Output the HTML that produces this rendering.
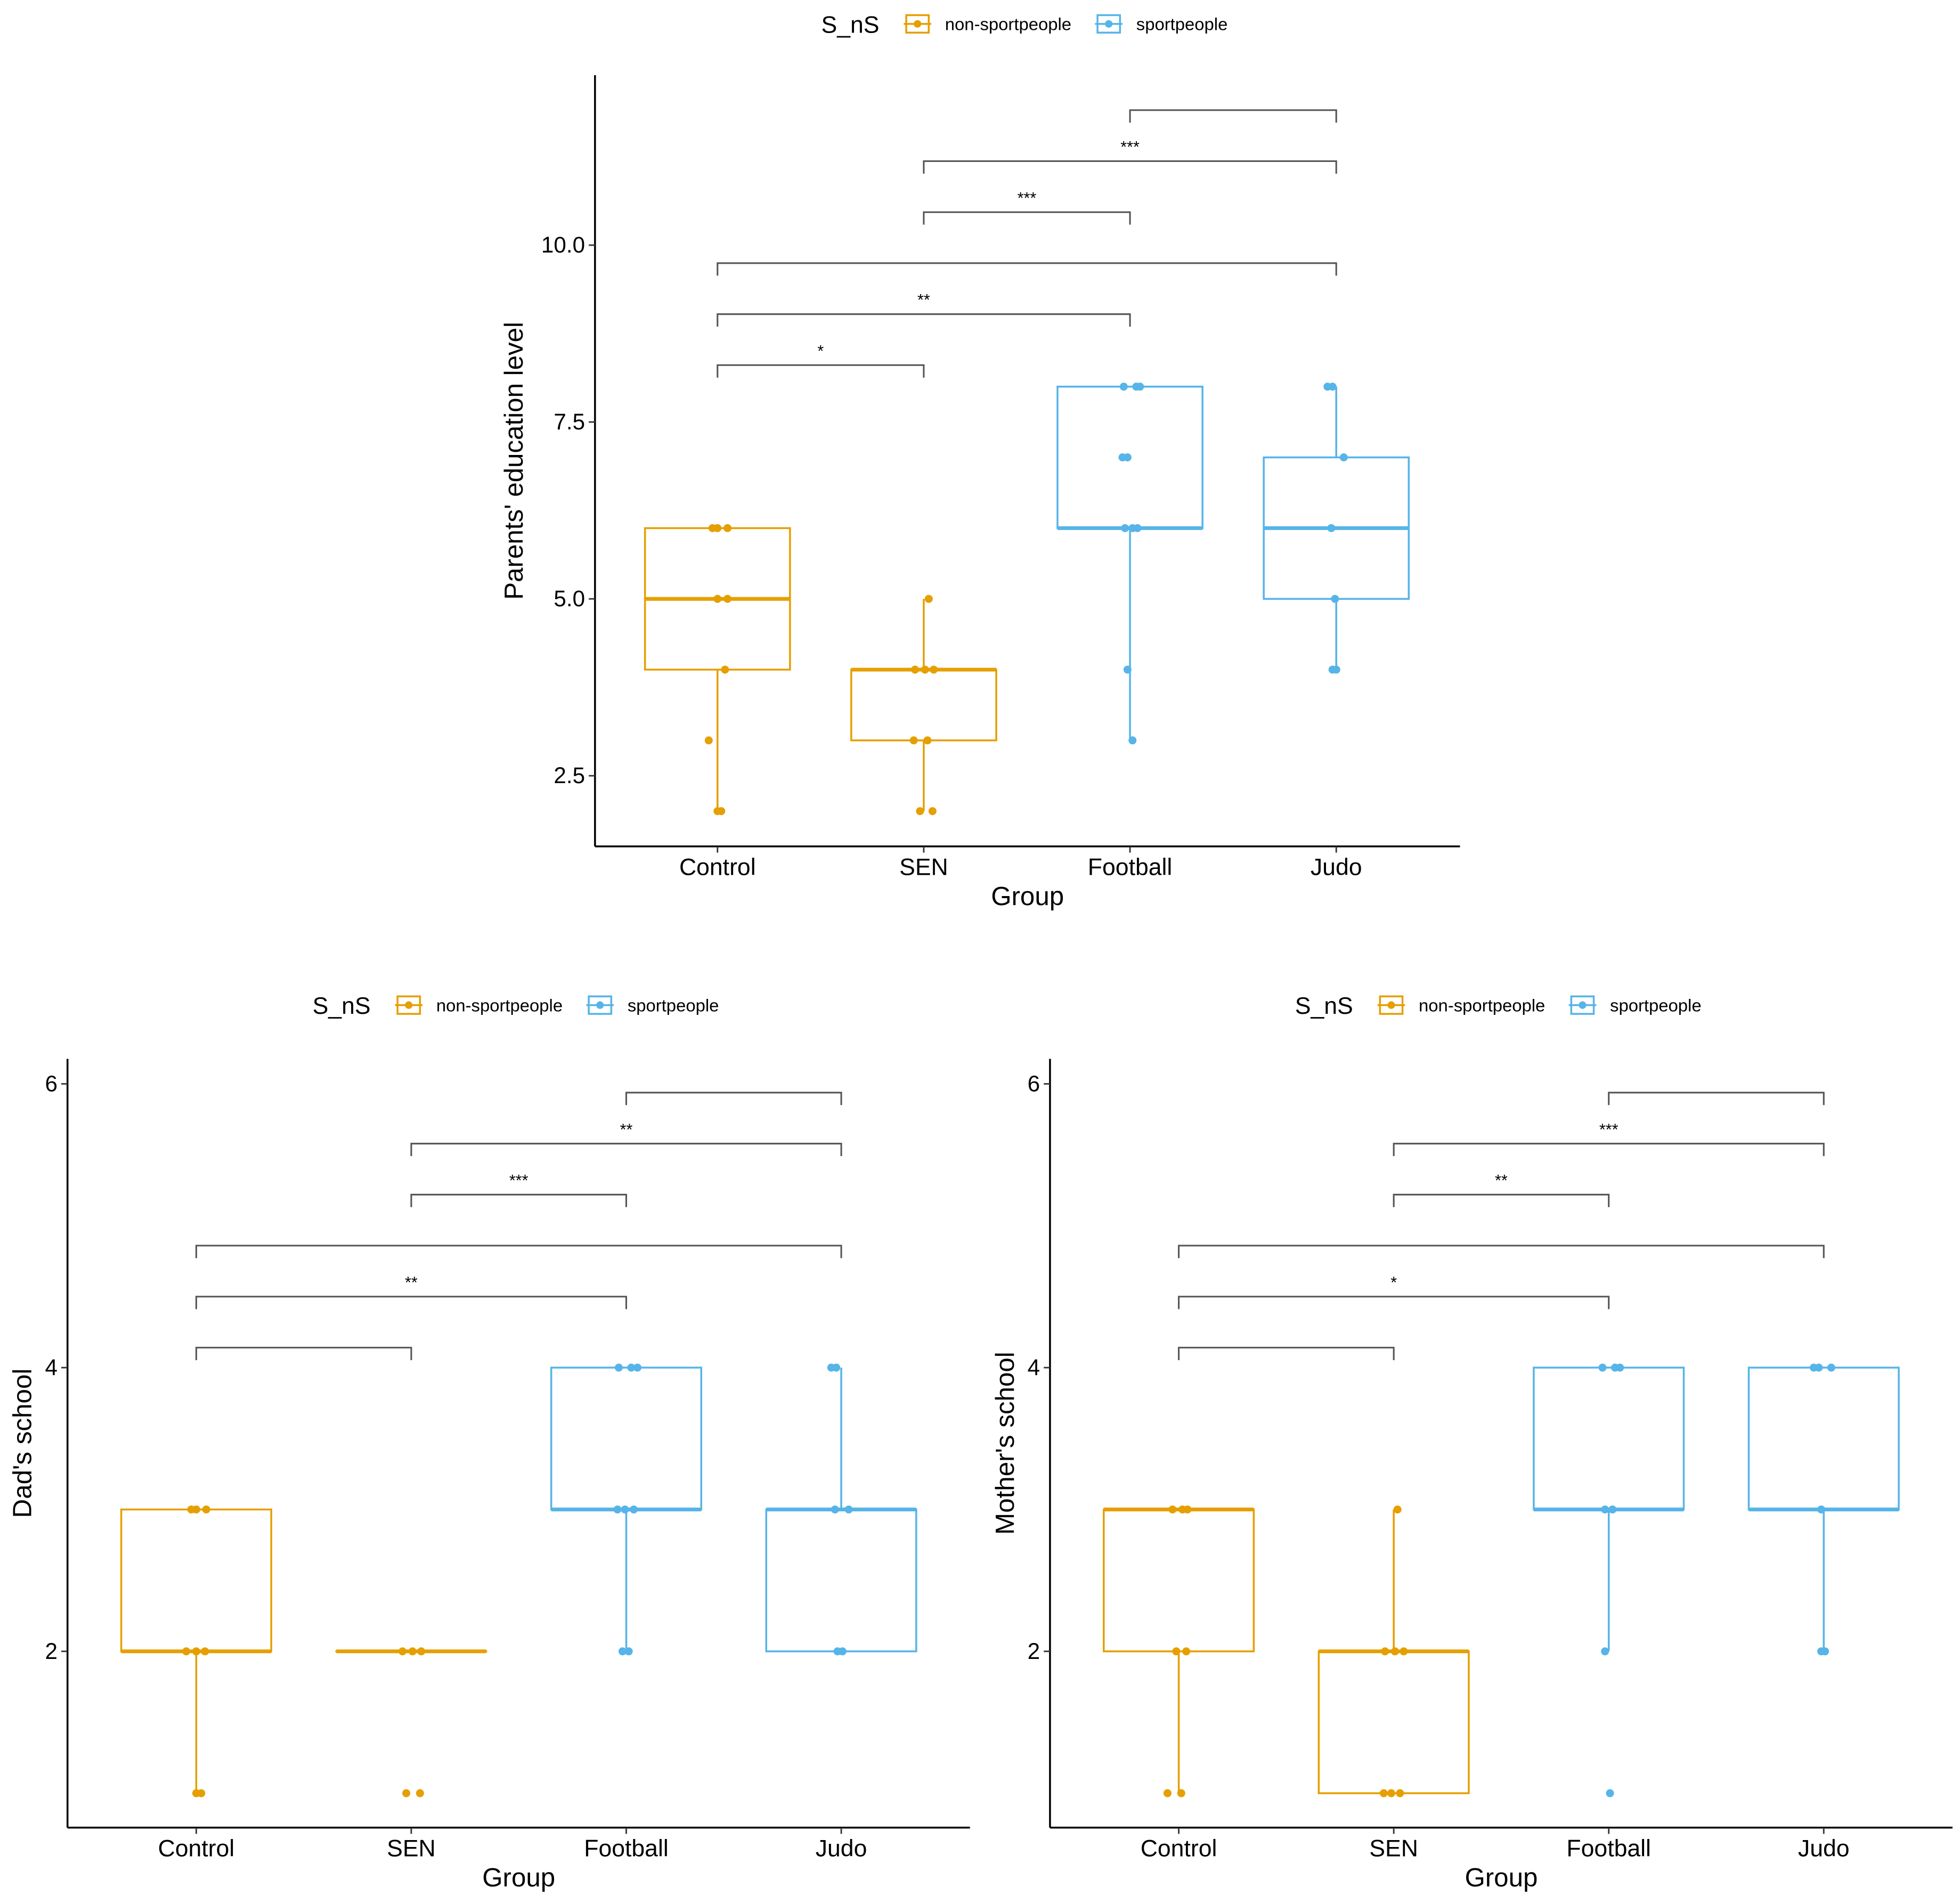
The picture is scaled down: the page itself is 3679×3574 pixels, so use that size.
<!DOCTYPE html>
<html><head><meta charset="utf-8"><style>
html,body{margin:0;padding:0;background:#fff}
svg{display:block}
text{font-family:"Liberation Sans",sans-serif;fill:#000}
</style></head><body>
<svg id="chart" width="3679" height="3574" viewBox="0 0 1568 1523" xmlns="http://www.w3.org/2000/svg"></svg>
<script>
const categories=["Control","SEN","Football","Judo"];
const groupType=["non","non","sport","sport"];
// box stats: [lowWhisker, q1, median, q3, highWhisker]
const parentsBoxes=[[2,4,5,6,6],[2,3,4,4,5],[3,6,6,8,8],[4,5,6,7,8]];
const dadBoxes=[[1,2,2,3,3],[2,2,2,2,2],[2,3,3,4,4],[2,2,3,3,4]];
const motherBoxes=[[1,2,3,3,3],[1,1,2,2,3],[2,3,3,4,4],[2,3,3,4,4]];
// points: [categoryIndex, value, jitter]
const parentsPoints=[[0,6,-4],[0,6,0],[0,6,8],[0,5,0],[0,5,8],[0,4,6],[0,3,-7],[0,2,0],[0,2,3],
[1,5,4],[1,4,-7],[1,4,1],[1,4,8],[1,3,-8],[1,3,3],[1,2,-3],[1,2,7],
[2,8,-5],[2,8,5],[2,8,8],[2,7,-6],[2,7,-2],[2,6,-4],[2,6,2],[2,6,6],[2,4,-2],[2,3,2],
[3,8,-7],[3,8,-3],[3,7,6],[3,6,-4],[3,5,-1],[3,4,-3],[3,4,0]];
const dadPoints=[[0,3,-4],[0,3,0],[0,3,8],[0,2,-8],[0,2,0],[0,2,7],[0,1,0],[0,1,4],
[1,2,-7],[1,2,1],[1,2,8],[1,1,-4],[1,1,7],
[2,4,-6],[2,4,4],[2,4,9],[2,3,-7],[2,3,-1],[2,3,6],[2,2,-3],[2,2,2],
[3,4,-8],[3,4,-4],[3,3,-5],[3,3,6],[3,2,-3],[3,2,1]];
const motherPoints=[[0,3,-5],[0,3,3],[0,3,7],[0,2,-2],[0,2,6],[0,1,-9],[0,1,2],
[1,3,3],[1,2,-7],[1,2,1],[1,2,8],[1,1,-8],[1,1,-2],[1,1,5],
[2,4,-5],[2,4,5],[2,4,9],[2,3,-3],[2,3,3],[2,2,-3],[2,1,1],
[3,4,-8],[3,4,-4],[3,4,6],[3,3,-2],[3,2,-2],[3,2,1]];
// brackets: [fromIdx,toIdx,label]
const parentsBrackets=[[0,1,"*"],[0,2,"**"],[0,3,""],[1,2,"***"],[1,3,"***"],[2,3,""]];
const dadBrackets=[[0,1,""],[0,2,"**"],[0,3,""],[1,2,"***"],[1,3,"**"],[2,3,""]];
const motherBrackets=[[0,1,""],[0,2,"*"],[0,3,""],[1,2,"**"],[1,3,"***"],[2,3,""]];
const parentsTicks=[2.5,5.0,7.5,10.0];
const schoolTicks=[2,4,6];

const NS="http://www.w3.org/2000/svg";
const svg=document.getElementById('chart');
const COL={non:"#E69F00",sport:"#56B4E9"};
function mk(tag,attrs,parent,text){const e=document.createElementNS(NS,tag);for(const k in attrs)e.setAttribute(k,attrs[k]);if(text!==undefined)e.textContent=text;(parent||svg).appendChild(e);return e;}

function panel(cfg){
  const g=mk('g',{});
  
  
  const y=v=>cfg.y0-(v-cfg.v0)*cfg.ppu;
  const x=i=>cfg.xc0+i*cfg.xstep;
  // legend
  const lg=mk('g',{},g);
  
  
  const L=cfg.legendX, LY=cfg.legendY;
  mk('text',{x:L,y:LY+7,'font-size':19},lg,'S_nS');
  [["non","non-sportpeople",L+66,L+99],["sport","sportpeople",L+219,L+252]].forEach(([k,lab,kx,tx])=>{
    const e=mk('g',{},lg);
    
    
    mk('rect',{x:kx+2,y:LY-7,width:18,height:14,fill:'none',stroke:COL[k],'stroke-width':1.5},e);
    mk('line',{x1:kx,x2:kx+22,y1:LY,y2:LY,stroke:COL[k],'stroke-width':1.5},e);
    mk('circle',{cx:kx+11,cy:LY,r:3,fill:COL[k]},e);
    mk('text',{x:tx,y:LY+5,'font-size':14},e,lab);
  });
  // axes
  mk('line',{x1:cfg.ax,x2:cfg.ax,y1:cfg.top,y2:cfg.bot,stroke:'#000','stroke-width':1.5},g);
  mk('line',{x1:cfg.ax,x2:cfg.right,y1:cfg.bot,y2:cfg.bot,stroke:'#000','stroke-width':1.5},g);
  cfg.ticks.forEach(t=>{
    mk('line',{x1:cfg.ax-5,x2:cfg.ax,y1:y(t),y2:y(t),stroke:'#333','stroke-width':1.2},g);
    const tl=mk('text',{x:cfg.ax-8,y:y(t)+6,'font-size':18,'text-anchor':'end',fill:'#333'},g,cfg.fmt(t));
    
    
  });
  categories.forEach((c,i)=>{
    mk('line',{x1:x(i),x2:x(i),y1:cfg.bot,y2:cfg.bot+5,stroke:'#333','stroke-width':1.2},g);
    const tl=mk('text',{x:x(i),y:cfg.bot+23,'font-size':19,'text-anchor':'middle',fill:'#333'},g,c);
    
    
  });
  const xt=mk('text',{x:(cfg.ax+cfg.right)/2,y:cfg.bot+47,'font-size':21,'text-anchor':'middle'},g,'Group');
  
  
  const ym=(cfg.top+cfg.bot)/2;
  const yt=mk('text',{x:cfg.ytx,y:ym,'font-size':21,'text-anchor':'middle',transform:`rotate(-90 ${cfg.ytx} ${ym})`},g,cfg.ytitle);
  
  
  // boxes
  cfg.boxes.forEach((b,i)=>{
    const col=COL[groupType[i]], cx=x(i), hw=cfg.hw;
    const bg=mk('g',{},g);
    
    
    mk('line',{x1:cx,x2:cx,y1:y(b[0]),y2:y(b[1]),stroke:col,'stroke-width':1.5},bg);
    mk('line',{x1:cx,x2:cx,y1:y(b[3]),y2:y(b[4]),stroke:col,'stroke-width':1.5},bg);
    mk('rect',{x:cx-hw,y:y(b[3]),width:2*hw,height:Math.max(0.01,y(b[1])-y(b[3])),fill:'none',stroke:col,'stroke-width':1.5},bg);
    mk('line',{x1:cx-hw,x2:cx+hw,y1:y(b[2]),y2:y(b[2]),stroke:col,'stroke-width':3},bg);
  });
  cfg.points.forEach(p=>{
    const c=mk('circle',{cx:x(p[0])+p[2],cy:y(p[1]),r:3.2,fill:COL[groupType[p[0]]]},g);
    
    
  });
  // brackets
  cfg.brackets.forEach((br,k)=>{
    const by=cfg.brY0-k*cfg.brStep;
    const bg=mk('g',{},g);
    
    
    mk('path',{d:`M${x(br[0])},${by+10}V${by}H${x(br[1])}V${by+10}`,fill:'none',stroke:'#555','stroke-width':1.3},bg);
    if(br[2]) mk('text',{x:(x(br[0])+x(br[1]))/2,y:by-7,'font-size':13,'text-anchor':'middle'},bg,br[2]);
  });
}
panel({name:'parents-education-panel',y0:479,v0:5,ppu:56.6,xc0:574,xstep:165,hw:58,ax:476,top:60,bot:677,right:1168,
 ticks:parentsTicks,fmt:t=>t.toFixed(1),ytitle:"Parents' education level",ytx:418,boxes:parentsBoxes,points:parentsPoints,
 brackets:parentsBrackets,brY0:292,brStep:40.8,legendX:657,legendY:19});
panel({name:'dads-school-panel',y0:1321,v0:2,ppu:113.5,xc0:157,xstep:172,hw:60,ax:54,top:847,bot:1462,right:776,
 ticks:schoolTicks,fmt:t=>String(t),ytitle:"Dad's school",ytx:25,boxes:dadBoxes,points:dadPoints,
 brackets:dadBrackets,brY0:1078,brStep:40.8,legendX:250,legendY:804});
panel({name:'mothers-school-panel',y0:1321,v0:2,ppu:113.5,xc0:943,xstep:172,hw:60,ax:840,top:847,bot:1462,right:1562,
 ticks:schoolTicks,fmt:t=>String(t),ytitle:"Mother's school",ytx:811,boxes:motherBoxes,points:motherPoints,
 brackets:motherBrackets,brY0:1078,brStep:40.8,legendX:1036,legendY:804});
</script>
</body></html>
